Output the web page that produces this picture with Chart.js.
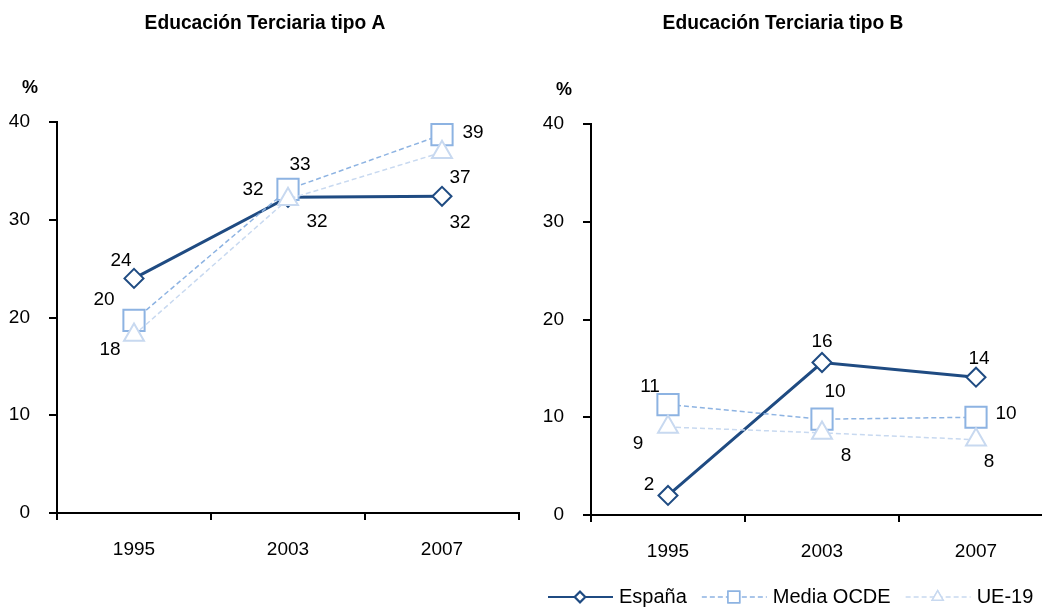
<!DOCTYPE html>
<html lang="es">
<head>
<meta charset="utf-8">
<script src="https://cdn.jsdelivr.net/npm/chart.js@4"></script>
<style>
    html, body { margin: 0; padding: 0; background: #fff; }
    #wrap { position: relative; width: 1048px; height: 610px; overflow: hidden; }
    .panel { position: absolute; top: 0; height: 610px; overflow: hidden; }
    #panelA { left: 0; width: 524px; }
    #panelB { left: 524px; width: 518px; }
</style>
</head>
<body>
<div id="wrap">
    <div class="panel" id="panelA"><canvas id="chartA" width="524" height="610"></canvas></div>
    <div class="panel" id="panelB"><canvas id="chartB" width="530" height="610"></canvas></div>
</div>
<script>
// Datos
const years = ['1995', '2003', '2007'];
const yTicks = [0, 10, 20, 30, 40];

const espanaA = [24.0, 32.3, 32.4];
const ocdeA = [19.7, 33.1, 38.7];
const ueA = [18.2, 32.1, 36.9];

const espanaB = [2.0, 15.6, 14.1];
const ocdeB = [11.3, 9.8, 10.0];
const ueB = [9.0, 8.4, 7.7];

const seriesNames = ['España', 'Media OCDE', 'UE-19'];

// Estilo
const COLORS = { espana: '#1F4B82', ocde: '#8DB3E2', ue: '#C8D9F0' };
const FONT = "'Liberation Sans', Arial, sans-serif";
const FONT_SIZE = 19;

// Posición de las etiquetas respecto a cada punto (dx, dy)
const labelOffsetsA = [
    [[-13, -18], [-35, -8], [18, 26]],
    [[-30, -21], [12, -25], [31, -2]],
    [[-24, 15], [29, 23], [18, 25]]
];
const labelOffsetsB = [
    [[-19, -11], [0, -21], [3, -18]],
    [[-18, -18], [13, -27], [30, -3]],
    [[-30, 17], [24, 23], [13, 22]]
];

// Plugin: título, "%" y etiquetas de datos
const decorPlugin = {
    id: 'decor',
    afterDatasetsDraw(chart, args, opts) {
        const { ctx, chartArea } = chart;
        ctx.save();
        ctx.fillStyle = '#000';
        ctx.textAlign = 'center';
        ctx.textBaseline = 'middle';

        ctx.save();
        ctx.font = "bold 20px 'Liberation Sans', Arial, sans-serif";
        ctx.translate(opts.titleX, 23);
        ctx.scale(0.96, 1);
        ctx.fillText(opts.title, 0, 0);
        ctx.restore();

        ctx.font = 'bold 18px ' + FONT;
        ctx.fillText('%', chartArea.left - 27, chartArea.top - 34);

        ctx.font = FONT_SIZE + 'px ' + FONT;
        chart.data.datasets.forEach((ds, di) => {
            const meta = chart.getDatasetMeta(di);
            meta.data.forEach((pt, i) => {
                const off = opts.offsets[di][i];
                ctx.fillText(String(Math.round(ds.data[i])), pt.x + off[0], pt.y + off[1]);
            });
        });
        ctx.restore();
    }
};

// Plugin: leyenda con línea y marcador
const legendPlugin = {
    id: 'lineLegend',
    afterDraw(chart, args, opts) {
        if (!opts.show) return;
        const { ctx } = chart;
        const y = 597;
        let x = 24;
        ctx.save();
        ctx.font = '20px ' + FONT;
        ctx.textBaseline = 'middle';
        chart.data.datasets.forEach(ds => {
            ctx.strokeStyle = ds.borderColor;
            ctx.lineWidth = ds.borderWidth > 2 ? 2 : 1.5;
            ctx.setLineDash(ds.borderDash || []);
            ctx.beginPath();
            ctx.moveTo(x, y);
            ctx.lineTo(x + 65, y);
            ctx.stroke();
            ctx.setLineDash([]);
            Chart.helpers.drawPoint(ctx, {
                pointStyle: ds.pointStyle,
                radius: ds.pointRadius * 0.55,
                borderWidth: 1.5
            }, x + 32, y);
            ctx.fillStyle = '#fff';
            ctx.fill();
            ctx.stroke();
            ctx.fillStyle = '#000';
            ctx.fillText(ds.label, x + 71, y);
            x += 71 + ctx.measureText(ds.label).width + 15;
        });
        ctx.restore();
    }
};

function makeDataset(label, data, color, style, radius, width, dash, order) {
    return {
        label: label,
        data: data,
        borderColor: color,
        backgroundColor: '#fff',
        borderWidth: width,
        borderDash: dash,
        pointStyle: style,
        pointRadius: radius,
        pointHoverRadius: radius,
        pointBorderWidth: 2,
        pointBackgroundColor: '#fff',
        pointBorderColor: color,
        tension: 0,
        clip: false,
        order: order
    };
}

function buildChart(id, esp, ocde, ue, cfg) {
    return new Chart(document.getElementById(id), {
        type: 'line',
        data: {
            labels: years,
            datasets: [
                makeDataset(seriesNames[0], esp, COLORS.espana, 'rectRot', 9.5, 3, [], 3),
                makeDataset(seriesNames[1], ocde, COLORS.ocde, 'rect', 15, 1.5, [5, 3], 2),
                makeDataset(seriesNames[2], ue, COLORS.ue, 'triangle', 11.5, 1.5, [5, 3], 1)
            ]
        },
        options: {
            responsive: false,
            animation: false,
            events: [],
            layout: {
                autoPadding: false,
                padding: { top: cfg.top, right: cfg.right, left: 0, bottom: 0 }
            },
            scales: {
                x: {
                    offset: true,
                    grid: { offset: true, drawOnChartArea: false, color: '#000', tickLength: 7, lineWidth: 2 },
                    border: { display: true, color: '#000', width: 2 },
                    ticks: { color: '#000', font: { family: FONT, size: FONT_SIZE }, padding: 18, maxRotation: 0 },
                    afterFit: s => {
                        s.height = 610 - cfg.bottom;
                        s.paddingLeft = 0;
                        s.paddingRight = 0;
                    }
                },
                y: {
                    min: 0,
                    max: 40,
                    afterBuildTicks: s => { s.ticks = yTicks.map(v => ({ value: v })); },
                    grid: { drawOnChartArea: false, color: '#000', tickLength: 8, lineWidth: 2 },
                    border: { display: true, color: '#000', width: 2 },
                    ticks: { color: '#000', font: { family: FONT, size: FONT_SIZE }, padding: 19 },
                    afterFit: s => { s.width = cfg.left; }
                }
            },
            plugins: {
                legend: { display: false },
                tooltip: { enabled: false },
                title: { display: false },
                decor: { title: cfg.title, titleX: cfg.titleX, offsets: cfg.offsets },
                lineLegend: { show: cfg.legend }
            }
        },
        plugins: [decorPlugin, legendPlugin]
    });
}

buildChart('chartA', espanaA, ocdeA, ueA, {
    title: 'Educación Terciaria tipo A', titleX: 265,
    top: 122, bottom: 513, left: 57, right: 5,
    offsets: labelOffsetsA, legend: false
});

buildChart('chartB', espanaB, ocdeB, ueB, {
    title: 'Educación Terciaria tipo B', titleX: 259,
    top: 124, bottom: 515, left: 67, right: 1,
    offsets: labelOffsetsB, legend: true
});
</script>
</body>
</html>
